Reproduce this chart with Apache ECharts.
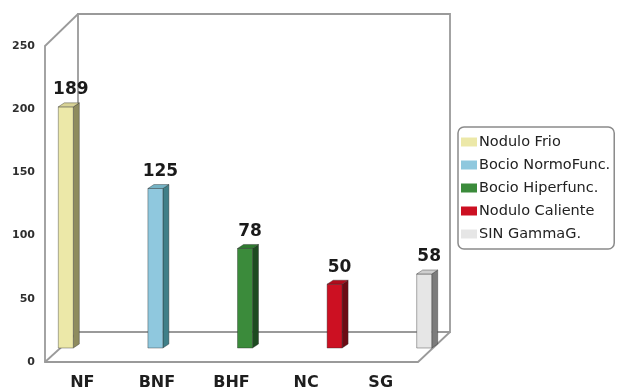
<!DOCTYPE html>
<html>
<head>
<meta charset="utf-8">
<script src="https://cdn.jsdelivr.net/npm/echarts@6/dist/echarts.min.js"></script>
<style>
  html, body { margin: 0; padding: 0; background: #fff; }
  #chart { width: 624px; height: 389px; }
</style>
</head>
<body>
<div id="chart"></div>
<script>
// Thyroid scan categories and patient counts
const categories = ['NF', 'BNF', 'BHF', 'NC', 'SG'];
const values = [189, 125, 78, 50, 58];
const seriesNames = ['Nodulo Frio', 'Bocio NormoFunc.', 'Bocio Hiperfunc.', 'Nodulo Caliente', 'SIN GammaG.'];
const yMin = 0, yMax = 250, yStep = 50;

// Front, side and top face colours per bar
const faceColors = [
  { front: '#ece8a8', side: '#8e8b5e', top: '#d8d396' },
  { front: '#8fc8de', side: '#3f7f88', top: '#74b2c4' },
  { front: '#3b8b3b', side: '#1d4a20', top: '#2f7a30' },
  { front: '#cc1022', side: '#6c0b14', top: '#b00c1c' },
  { front: '#e6e6e6', side: '#7c7c7c', top: '#cfcfcf' }
];

// Box layout: front plane, back wall and the plane the bars stand in
const FRONT = { left: 45, top: 46, width: 373, height: 316 };
const BACK = { left: 78, top: 14, width: 372, height: 318 };
const BARS = { left: 21, top: 29, width: 448, height: 319 };
const FRAME = '#9a9a9a';

const chart = echarts.init(document.getElementById('chart'), null, { renderer: 'canvas' });

function renderBar(params, api) {
  const idx = api.value(0);
  const v = api.value(1);
  const top = api.coord([idx, v]);
  const base = api.coord([idx, 0]);
  const c = faceColors[idx];
  const bw = 15, dx = 6, dy = 4;
  const x0 = top[0] - bw / 2, x1 = top[0] + bw / 2;
  const yt = top[1], yb = base[1];
  const edge = 'rgba(40,40,40,0.55)';
  return {
    type: 'group',
    children: [
      { type: 'polygon', shape: { points: [[x1, yt], [x1 + dx, yt - dy], [x1 + dx, yb - dy], [x1, yb]] },
        style: { fill: c.side, stroke: edge, lineWidth: 0.7 } },
      { type: 'rect', shape: { x: x0, y: yt, width: bw, height: yb - yt },
        style: { fill: c.front, stroke: edge, lineWidth: 0.7 } },
      { type: 'polygon', shape: { points: [[x0, yt], [x1, yt], [x1 + dx, yt - dy], [x0 + dx, yt - dy]] },
        style: { fill: c.top, stroke: edge, lineWidth: 0.7 } },
      { type: 'text', x: top[0] + 5, y: yt - 17,
        style: { text: String(v), fill: '#1a1a1a', font: 'bold 17px "DejaVu Sans", sans-serif',
                 align: 'center', verticalAlign: 'middle' } }
    ]
  };
}

const series = categories.map((cat, i) => ({
  name: seriesNames[i],
  type: 'custom',
  xAxisIndex: 2,
  yAxisIndex: 2,
  itemStyle: { color: faceColors[i].front },
  renderItem: renderBar,
  encode: { x: 0, y: 1 },
  data: [[i, values[i]]],
  z: 5
}));

function line(x1, y1, x2, y2) {
  return { type: 'line', z: 1, shape: { x1, y1, x2, y2 },
           style: { stroke: FRAME, lineWidth: 1.8 } };
}

const option = {
  animation: false,
  backgroundColor: '#ffffff',
  grid: [
    Object.assign({ show: false, outerBoundsMode: 'none' }, FRONT),
    Object.assign({ show: true, outerBoundsMode: 'none', borderColor: FRAME, borderWidth: 1.8, backgroundColor: 'transparent' }, BACK),
    Object.assign({ show: false, outerBoundsMode: 'none' }, BARS)
  ],
  xAxis: [
    { gridIndex: 0, type: 'category', data: categories,
      axisLine: { show: true, lineStyle: { color: FRAME, width: 1.8 } },
      axisTick: { show: false },
      axisLabel: { margin: 13, color: '#1e1e1e', fontSize: 16, fontWeight: 'bold', fontFamily: 'DejaVu Sans' } },
    { gridIndex: 1, type: 'category', data: categories, show: false },
    { gridIndex: 2, type: 'category', data: categories, show: false }
  ],
  yAxis: [
    { gridIndex: 0, type: 'value', min: yMin, max: yMax, interval: yStep,
      axisLine: { show: true, lineStyle: { color: FRAME, width: 1.8 } },
      axisTick: { show: false },
      splitLine: { show: false },
      axisLabel: { margin: 10, color: '#2e2e2e', fontSize: 11, fontWeight: 'bold', fontFamily: 'DejaVu Sans' } },
    { gridIndex: 1, type: 'value', min: yMin, max: yMax, interval: yStep, show: false, splitLine: { show: false } },
    { gridIndex: 2, type: 'value', min: yMin, max: yMax, interval: yStep, show: false, splitLine: { show: false } }
  ],
  legend: {
    orient: 'vertical',
    left: 458,
    top: 127,
    icon: 'rect',
    itemWidth: 16,
    itemHeight: 9,
    itemGap: 7,
    padding: [7, 4, 7, 3],
    borderColor: '#8a8a8a',
    borderWidth: 1.5,
    borderRadius: 6,
    selectedMode: false,
    textStyle: { color: '#222', fontSize: 14.5, lineHeight: 16, fontFamily: 'DejaVu Sans', padding: [0, 0, 0, -3] },
    data: seriesNames
  },
  graphic: [
    // receding edges joining the front plane to the back wall
    line(FRONT.left, FRONT.top, BACK.left, BACK.top),
    line(FRONT.left, FRONT.top + FRONT.height, BACK.left, BACK.top + BACK.height),
    line(FRONT.left + FRONT.width, FRONT.top + FRONT.height, BACK.left + BACK.width, BACK.top + BACK.height)
  ],
  series: series
};

chart.setOption(option);
</script>
</body>
</html>
